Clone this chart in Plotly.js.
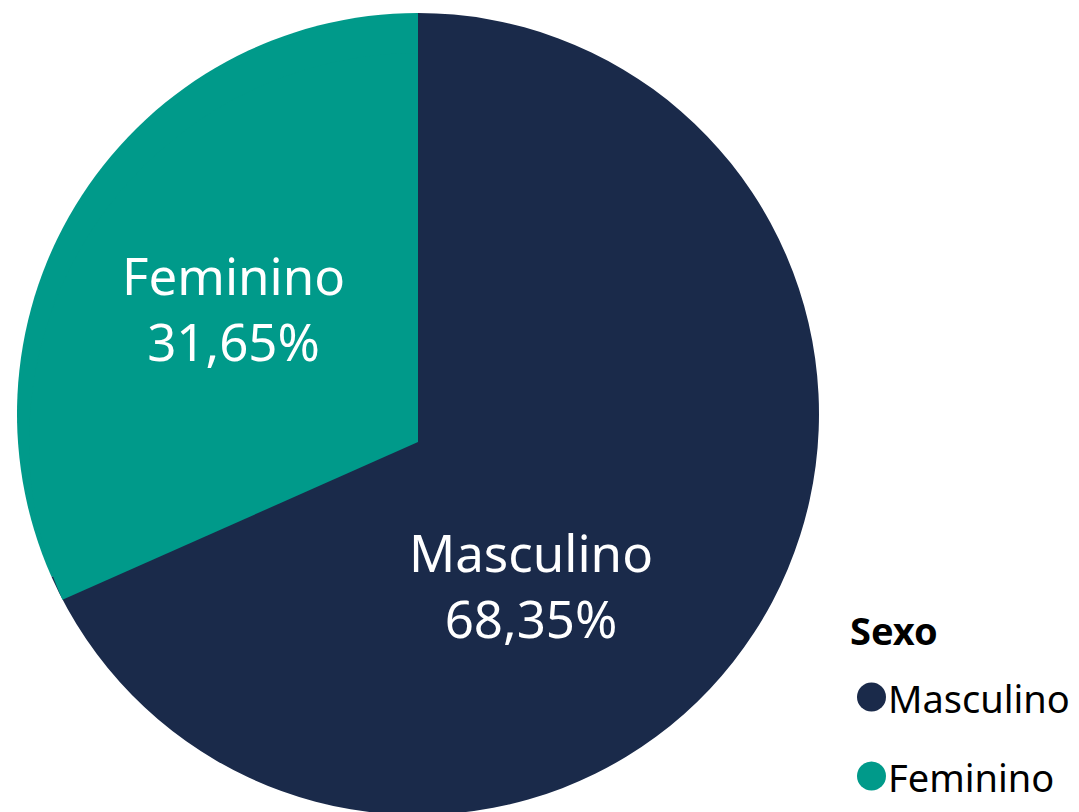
<!DOCTYPE html>
<html>
<head>
<meta charset="utf-8">
<script src="https://cdn.plot.ly/plotly-3.0.1.min.js"></script>
<style>
html,body{margin:0;padding:0;overflow:hidden;background:#fff;}
#chart{width:1079px;height:840px;}
</style>
</head>
<body>
<div id="chart"></div>
<script>
var categories = ["Masculino", "Feminino"];
var values = [68.35, 31.65];
var colors = ["#1A2A4A", "#009A8A"];
var legendTitle = "Sexo";

var W = 1079, H = 840;
function px(x){ return x / W; }
function py(y){ return 1 - y / H; }
function fmtPct(v){ return v.toFixed(2).replace(".", ",") + "%"; }

var FONT = "Noto Sans, Open Sans, sans-serif";

// main disc: centre (418,414), radius 401
var CX = 418, CY = 414, R = 401;
var mainPie = {
  type: "pie",
  labels: categories,
  values: values,
  sort: false,
  direction: "clockwise",
  rotation: 0,
  marker: {colors: colors, line: {width: 0}},
  textinfo: "none",
  hoverinfo: "label+percent",
  showlegend: false,
  domain: {x: [px(CX - R), px(CX + R)], y: [py(CY + R), py(CY - R)]}
};

// the slice vertex in the reference sits slightly below the disc centre
var VX = 418, VY = 442, R2 = 389;
var vertexPie = {
  type: "pie",
  labels: categories,
  values: values,
  sort: false,
  direction: "clockwise",
  rotation: 0,
  marker: {colors: ["rgba(0,0,0,0)", colors[1]], line: {width: 0}},
  textinfo: "none",
  hoverinfo: "skip",
  showlegend: false,
  domain: {x: [px(VX - R2), px(VX + R2)], y: [py(VY + R2), py(VY - R2)]}
};

var labelPos = [[531, 585], [233, 308]];
var shapes = [];
var annotations = [];
categories.forEach(function(c, i){
  annotations.push({
    text: c + "<br>" + fmtPct(values[i]),
    xref: "paper", yref: "paper",
    x: px(labelPos[i][0]), y: py(labelPos[i][1]),
    xanchor: "center", yanchor: "middle",
    showarrow: false,
    font: {family: FONT, size: 51, color: "#ffffff"}
  });
});

annotations.push({
  text: "<b>" + legendTitle + "</b>",
  xref: "paper", yref: "paper",
  x: px(848), y: py(630),
  xanchor: "left", yanchor: "middle",
  showarrow: false,
  font: {family: FONT, size: 38, color: "#000000"}
});
var legendY = [697, 776];
categories.forEach(function(c, i){
  var cy = legendY[i];
  shapes.push({
    type: "circle", xref: "paper", yref: "paper",
    x0: px(857), x1: px(886), y0: py(cy + 14.5), y1: py(cy - 14.5),
    fillcolor: colors[i], line: {width: 0}
  });
  annotations.push({
    text: c, xref: "paper", yref: "paper",
    x: px(886), y: py(cy + 1),
    xanchor: "left", yanchor: "middle",
    showarrow: false,
    font: {family: FONT, size: 38, color: "#000000"}
  });
});

var layout = {
  width: W, height: H,
  margin: {l: 0, r: 0, t: 0, b: 0},
  paper_bgcolor: "#ffffff",
  separators: ",.",
  showlegend: false,
  shapes: shapes,
  annotations: annotations
};

Plotly.newPlot("chart", [mainPie, vertexPie], layout, {displayModeBar: false, staticPlot: true});
</script>
</body>
</html>
